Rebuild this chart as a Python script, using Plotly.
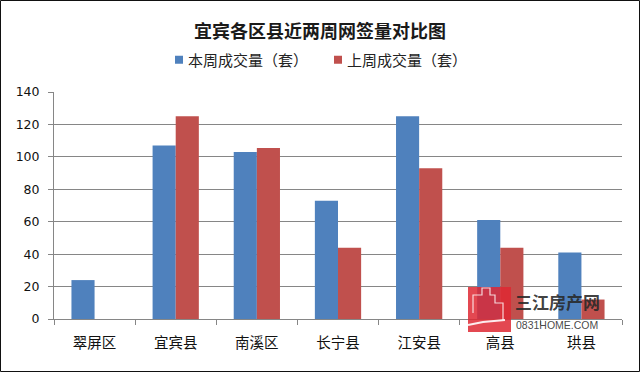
import plotly.graph_objects as go

categories = ["翠屏区", "宜宾县", "南溪区", "长宁县", "江安县", "高县", "珙县"]
this_week = [24, 107, 103, 73, 125, 61, 41]
last_week = [None, 125, 105.5, 44, 93, 44, 12]
y_ticks = [0, 20, 40, 60, 80, 100, 120, 140]
series_names = ["本周成交量（套）", "上周成交量（套）"]
title_text = "宜宾各区县近两周网签量对比图"

W, H = 640, 372
L, R, T, B = 54, 622, 92, 319
FONT = "Noto Sans CJK SC"

def px(x):
    return (x - L) / (R - L)

def py(y):
    return (B - y) / (B - T)

def path(points):
    return " ".join(("M" if i == 0 else "L") + " %.4f,%.4f" % (px(a), py(b)) for i, (a, b) in enumerate(points))

fig = go.Figure()
fig.add_bar(x=categories, y=this_week, name=series_names[0], marker_color="#4F81BD", marker_line_width=0)
fig.add_bar(x=categories, y=last_week, name=series_names[1], marker_color="#C0504D", marker_line_width=0)

shapes = [
    dict(type="rect", xref="paper", yref="paper", x0=px(0.5), x1=px(W - 0.5), y0=py(H - 0.5), y1=py(0.5),
         line=dict(color="#111111", width=1), fillcolor="rgba(0,0,0,0)", layer="above"),
    dict(type="rect", xref="paper", yref="paper", x0=px(468), x1=px(511), y0=py(332), y1=py(287),
         line_width=0, fillcolor="rgba(222,40,50,0.85)", layer="above"),
    dict(type="path", xref="paper", yref="paper", layer="above",
         path=path([(473, 313), (473, 295), (482, 295), (482, 288), (490, 288), (490, 295),
                    (495, 295), (495, 303), (503, 303), (503, 320)]),
         line=dict(color="rgba(255,255,255,0.8)", width=1.2), fillcolor="rgba(0,0,0,0)"),
    dict(type="path", xref="paper", yref="paper", layer="above",
         path=path([(468, 325), (483, 322), (505, 320)]),
         line=dict(color="rgba(255,255,255,0.9)", width=2), fillcolor="rgba(0,0,0,0)"),
]

annotations = [
    dict(text="三江房产网", xref="paper", yref="paper", x=px(513), y=py(301), xanchor="left", yanchor="middle",
         showarrow=False, font=dict(family=FONT, size=17, color="rgba(40,40,40,0.9)", weight="bold")),
    dict(text="0831HOME.COM", xref="paper", yref="paper", x=px(514), y=py(325), xanchor="left", yanchor="middle",
         showarrow=False, font=dict(family="Liberation Sans", size=10.5, color="rgba(50,50,50,0.9)")),
]

fig.update_layout(
    width=W, height=H,
    margin=dict(l=L, r=W - R, t=T, b=H - B, autoexpand=False),
    paper_bgcolor="white", plot_bgcolor="white",
    barmode="group", bargap=0.43, bargroupgap=0,
    title=dict(text=title_text, x=0.5, xanchor="center", xref="container", y=1 - 32 / H, yanchor="middle",
               font=dict(family=FONT, size=18, color="#1a1a1a", weight="bold")),
    legend=dict(orientation="h", x=px(148), y=py(60), xanchor="left", yanchor="middle",
                font=dict(family=FONT, size=15, color="#222222"), entrywidth=114, entrywidthmode="pixels",
                itemsizing="constant"),
    font=dict(family=FONT, color="#222222"),
    xaxis=dict(type="category", tickson="boundaries", ticks="outside", ticklen=5, tickcolor="#868686",
               linecolor="#868686", showline=True, showgrid=False, ticklabelstandoff=11,
               tickfont=dict(family=FONT, size=14.5, color="#111111")),
    yaxis=dict(range=[0, 140], tickvals=y_ticks, ticks="outside", ticklen=5, tickcolor="#868686",
               linecolor="#868686", showline=True, gridcolor="#868686", gridwidth=1, zeroline=False,
               ticklabelstandoff=6,
               tickfont=dict(family="DejaVu Sans", size=12.5, color="#111111")),
    shapes=shapes, annotations=annotations,
)

post = """
document.body.style.margin='0';
document.querySelectorAll('.legendsymbols').forEach(function(g){g.setAttribute('transform','translate(11,0)');});
document.querySelectorAll('.legendpoints path').forEach(function(p){p.setAttribute('d','M4,4H-4V-4H4Z');});
"""
fig.write_html("out.html", post_script=post, config={"displayModeBar": False})
